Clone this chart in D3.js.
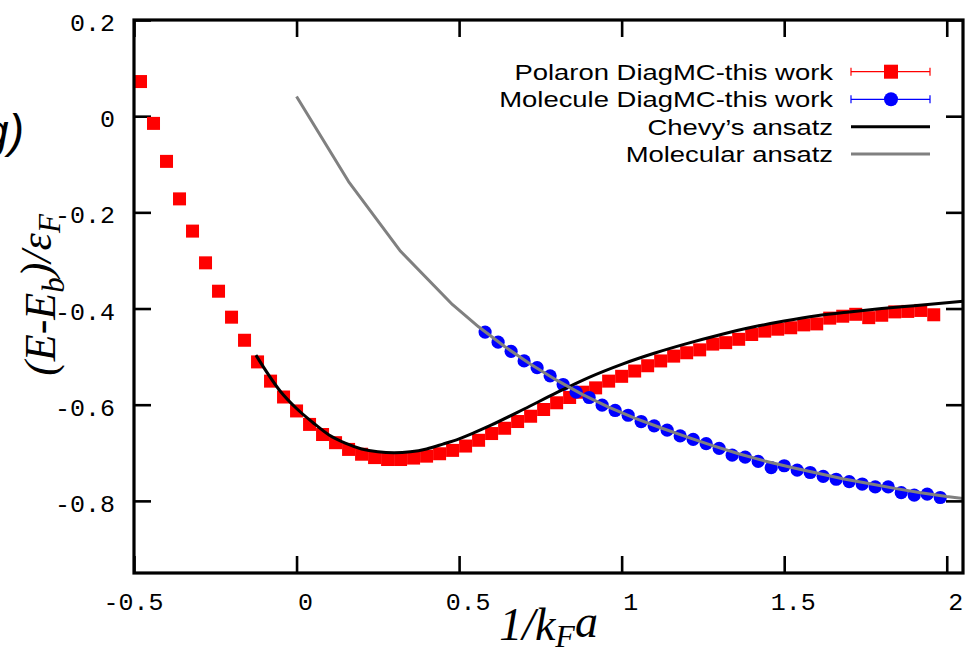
<!DOCTYPE html>
<html><head><meta charset="utf-8">
<script src="https://cdn.jsdelivr.net/npm/d3@7"></script>
<style>body{margin:0;background:#fff;overflow:hidden}</style>
</head><body>
<svg id="chart" width="979" height="658"></svg>
<script>
// ---- data ----
const xTicks = [-0.5, 0, 0.5, 1, 1.5, 2];
const xTickLabels = ["-0.5", "0", "0.5", "1", "1.5", "2"];
const yTicks = [0.2, 0, -0.2, -0.4, -0.6, -0.8];
const yTickLabels = ["0.2", "0", "-0.2", "-0.4", "-0.6", "-0.8"];

const polaronX = [-0.48,-0.44,-0.40,-0.36,-0.32,-0.28,-0.24,-0.20,-0.16,-0.12,-0.08,-0.04,0.00,0.04,0.08,0.12,0.16,0.20,0.24,0.28,0.32,0.36,0.40,0.44,0.48,0.52,0.56,0.60,0.64,0.68,0.72,0.76,0.80,0.84,0.88,0.92,0.96,1.00,1.04,1.08,1.12,1.16,1.20,1.24,1.28,1.32,1.36,1.40,1.44,1.48,1.52,1.56,1.60,1.64,1.68,1.72,1.76,1.80,1.84,1.88,1.92,1.96];
const polaronE = [0.072,-0.015,-0.094,-0.172,-0.239,-0.305,-0.364,-0.418,-0.466,-0.511,-0.551,-0.584,-0.613,-0.641,-0.662,-0.679,-0.693,-0.703,-0.710,-0.714,-0.714,-0.711,-0.707,-0.702,-0.695,-0.686,-0.674,-0.660,-0.649,-0.635,-0.624,-0.610,-0.596,-0.585,-0.574,-0.565,-0.551,-0.541,-0.530,-0.519,-0.509,-0.499,-0.492,-0.486,-0.474,-0.471,-0.464,-0.454,-0.447,-0.443,-0.440,-0.434,-0.432,-0.420,-0.416,-0.412,-0.419,-0.414,-0.407,-0.406,-0.404,-0.413];

const moleculeX = [0.58,0.62,0.66,0.70,0.74,0.78,0.82,0.86,0.90,0.94,0.98,1.02,1.06,1.10,1.14,1.18,1.22,1.26,1.30,1.34,1.38,1.42,1.46,1.50,1.54,1.58,1.62,1.66,1.70,1.74,1.78,1.82,1.86,1.90,1.94,1.98];
const moleculeE = [-0.449,-0.470,-0.489,-0.509,-0.523,-0.540,-0.558,-0.574,-0.585,-0.601,-0.612,-0.622,-0.635,-0.644,-0.653,-0.665,-0.672,-0.681,-0.691,-0.705,-0.709,-0.718,-0.731,-0.727,-0.736,-0.741,-0.749,-0.755,-0.760,-0.765,-0.771,-0.771,-0.783,-0.788,-0.786,-0.793];

const chevyX = [-0.125,-0.05,0,0.05,0.1,0.15,0.2,0.25,0.3,0.35,0.4,0.45,0.5,0.55,0.6,0.7,0.8,0.9,1.0,1.1,1.2,1.3,1.4,1.5,1.6,1.7,1.8,1.9,2.05];
const chevyE = [-0.497,-0.572,-0.608,-0.637,-0.663,-0.680,-0.692,-0.698,-0.700,-0.698,-0.692,-0.682,-0.671,-0.657,-0.642,-0.609,-0.575,-0.543,-0.516,-0.493,-0.473,-0.455,-0.439,-0.426,-0.415,-0.407,-0.400,-0.394,-0.385];

const molAnsatzX = [0,0.16,0.32,0.48,0.56,0.64,0.72,0.8,0.88,0.96,1.04,1.12,1.2,1.28,1.36,1.44,1.52,1.6,1.68,1.76,1.84,1.92,2.0,2.05];
const molAnsatzE = [0.041,-0.136,-0.281,-0.392,-0.438,-0.479,-0.516,-0.549,-0.579,-0.605,-0.628,-0.648,-0.667,-0.685,-0.702,-0.717,-0.730,-0.742,-0.754,-0.764,-0.774,-0.783,-0.791,-0.795];

const legendLabels = ["Polaron DiagMC-this work","Molecule DiagMC-this work","Chevy\u2019s ansatz","Molecular ansatz"];

// ---- chart ----
const svg = d3.select("#chart");
const L = 134, R = 963, T = 20, B = 573;
const x = d3.scaleLinear().domain([-0.5, 2.05]).range([L, R]);
const y = d3.scaleLinear().domain([-0.95, 0.2]).range([B, T]);

svg.append("defs").append("clipPath").attr("id","clip")
  .append("rect").attr("x",L).attr("y",T).attr("width",R-L).attr("height",B-T);

const tickFont = "'Liberation Mono', monospace";
const tickLen = 17;

// bottom axis
const gx = svg.append("g").attr("transform",`translate(0,${B})`)
  .call(d3.axisBottom(x).tickValues(xTicks).tickSizeInner(-tickLen).tickSizeOuter(0).tickFormat((d,i)=>xTickLabels[i]));
gx.select(".domain").remove();
gx.selectAll("line").attr("stroke","#000").attr("stroke-width",2.6);
gx.selectAll("text").each(function(d,i){
  const lab = xTickLabels[i];
  const dx = lab.startsWith("-") ? -1 : 8.5;
  d3.select(this).attr("y",0).attr("dy",null).attr("x",null)
    .attr("transform",`translate(${dx},37) scale(1.04,1)`)
    .attr("text-anchor","middle").style("font-family",tickFont).style("font-size","24px").attr("fill","#000");
});
// top axis
const gt = svg.append("g").attr("transform",`translate(0,${T})`)
  .call(d3.axisTop(x).tickValues(xTicks).tickSizeInner(-tickLen).tickSizeOuter(0).tickFormat(""));
gt.select(".domain").remove();
gt.selectAll("line").attr("stroke","#000").attr("stroke-width",2.6);
// left axis
const gy = svg.append("g").attr("transform",`translate(${L},0)`)
  .call(d3.axisLeft(y).tickValues(yTicks).tickSizeInner(-tickLen).tickSizeOuter(0).tickFormat((d,i)=>yTickLabels[i]));
gy.select(".domain").remove();
gy.selectAll("line").attr("stroke","#000").attr("stroke-width",2.6);
gy.selectAll("text").each(function(){
  d3.select(this).attr("x",null).attr("dy",null).attr("y",0)
    .attr("transform",`translate(-19,10.5) scale(1.04,1)`)
    .attr("text-anchor","end").style("font-family",tickFont).style("font-size","24px").attr("fill","#000");
});
// right axis
const gr = svg.append("g").attr("transform",`translate(${R},0)`)
  .call(d3.axisRight(y).tickValues(yTicks).tickSizeInner(-tickLen).tickSizeOuter(0).tickFormat(""));
gr.select(".domain").remove();
gr.selectAll("line").attr("stroke","#000").attr("stroke-width",2.6);

// data layer
const plot = svg.append("g").attr("clip-path","url(#clip)");

const sq = 13;
plot.append("g").selectAll("rect").data(polaronX.map((v,i)=>[v,polaronE[i]])).join("rect")
  .attr("x",d=>x(d[0])-sq/2).attr("y",d=>y(d[1])-sq/2).attr("width",sq).attr("height",sq).attr("fill","#ff0000");

plot.append("g").selectAll("circle").data(moleculeX.map((v,i)=>[v,moleculeE[i]])).join("circle")
  .attr("cx",d=>x(d[0])).attr("cy",d=>y(d[1])).attr("r",6.6).attr("fill","#0000ff");

plot.append("path").datum(chevyX.map((v,i)=>[v,chevyE[i]]))
  .attr("d",d3.line().x(d=>x(d[0])).y(d=>y(d[1])).curve(d3.curveMonotoneX))
  .attr("fill","none").attr("stroke","#000").attr("stroke-width",3);

plot.append("path").datum(molAnsatzX.map((v,i)=>[v,molAnsatzE[i]]))
  .attr("d",d3.line().x(d=>x(d[0])).y(d=>y(d[1])))
  .attr("fill","none").attr("stroke","#808080").attr("stroke-width",3).attr("stroke-linejoin","round");

// frame
svg.append("rect").attr("x",L).attr("y",T).attr("width",R-L).attr("height",B-T)
  .attr("fill","none").attr("stroke","#000").attr("stroke-width",3.2);

// legend
const legY = [71.7, 99.3, 126.7, 154];
const lx1 = 851, lx2 = 930, lxc = 891;
legendLabels.forEach((lab,i)=>{
  svg.append("text").attr("transform",`translate(833,${legY[i]+8}) scale(1.22,1)`)
    .attr("text-anchor","end").style("font-family","'Liberation Sans', Arial, sans-serif")
    .style("font-size","22.5px").attr("fill","#000").text(lab);
});
[[0,"#ff0000"],[1,"#0000ff"]].forEach(([i,c])=>{
  const g = svg.append("g");
  g.append("line").attr("x1",lx1).attr("x2",lx2).attr("y1",legY[i]).attr("y2",legY[i]).attr("stroke",c).attr("stroke-width",1.2);
  g.append("line").attr("x1",lx1).attr("x2",lx1).attr("y1",legY[i]-4).attr("y2",legY[i]+4).attr("stroke",c).attr("stroke-width",1.2);
  g.append("line").attr("x1",lx2).attr("x2",lx2).attr("y1",legY[i]-4).attr("y2",legY[i]+4).attr("stroke",c).attr("stroke-width",1.2);
  if(i===0) g.append("rect").attr("x",lxc-7).attr("y",legY[i]-7).attr("width",14).attr("height",14).attr("fill",c);
  else g.append("circle").attr("cx",lxc).attr("cy",legY[i]).attr("r",7).attr("fill",c);
});
svg.append("line").attr("x1",lx1).attr("x2",lx2).attr("y1",legY[2]).attr("y2",legY[2]).attr("stroke","#000").attr("stroke-width",3);
svg.append("line").attr("x1",lx1).attr("x2",lx2).attr("y1",legY[3]).attr("y2",legY[3]).attr("stroke","#808080").attr("stroke-width",3);

// axis titles
const serif = "'Liberation Serif', 'Times New Roman', serif";
const xt = svg.append("text").attr("x",(L+R)/2).attr("y",640).attr("text-anchor","middle")
  .style("font-family",serif).style("font-style","italic").style("font-size","46px").attr("fill","#000");
xt.append("tspan").text("1/k");
xt.append("tspan").attr("dy","0.22em").style("font-size","32px").text("F");
xt.append("tspan").attr("dy","-0.22em").text("a");

const yt = svg.append("text").attr("transform","translate(55,295) rotate(-90)").attr("text-anchor","middle")
  .style("font-family",serif).style("font-style","italic").style("font-size","44px").attr("fill","#000");
yt.append("tspan").text("(E-E");
yt.append("tspan").attr("dy","0.3em").style("font-size","31px").text("b");
yt.append("tspan").attr("dy","-0.3em").text(")/\u03b5");
yt.append("tspan").attr("dy","0.3em").style("font-size","31px").text("F");

// panel label (partially cut off at the left edge, as in the reference)
svg.append("text").attr("x",24).attr("y",147).attr("text-anchor","end")
  .style("font-family","'Liberation Sans', Arial, sans-serif").style("font-style","italic").style("font-size","46px")
  .attr("fill","#000").text("g)");
</script>
</body></html>
